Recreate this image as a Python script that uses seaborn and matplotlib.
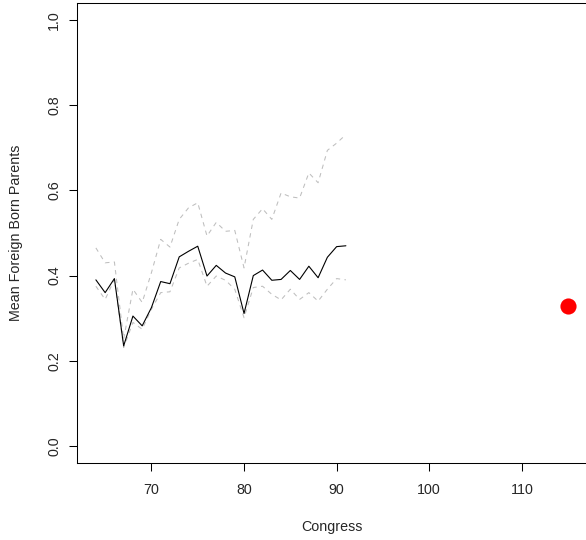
import numpy as np
import pandas as pd
import matplotlib
matplotlib.use("Agg")
import matplotlib.pyplot as plt
import seaborn as sns

sns.set_style("white")
plt.rcParams['font.family'] = ['Liberation Sans', 'DejaVu Sans']

# congress number for each series point
congress = list(range(64, 92))
mean_fb = [0.390, 0.360, 0.393, 0.235, 0.305, 0.282, 0.325, 0.386, 0.381, 0.444,
           0.457, 0.469, 0.399, 0.424, 0.406, 0.397, 0.311, 0.400, 0.413, 0.389,
           0.391, 0.412, 0.391, 0.422, 0.395, 0.443, 0.468, 0.470]
upper_fb = [0.465, 0.430, 0.432, 0.251, 0.368, 0.337, 0.407, 0.485, 0.467, 0.532,
            0.559, 0.571, 0.493, 0.525, 0.504, 0.506, 0.418, 0.532, 0.557, 0.532,
            0.594, 0.585, 0.582, 0.641, 0.618, 0.694, 0.711, 0.731]
lower_fb = [0.375, 0.344, 0.391, 0.231, 0.290, 0.274, 0.321, 0.360, 0.362, 0.418,
            0.429, 0.438, 0.375, 0.399, 0.389, 0.368, 0.301, 0.372, 0.375, 0.356,
            0.343, 0.368, 0.344, 0.360, 0.340, 0.368, 0.393, 0.390]
current_congress = [115]
current_fb = [0.328]

df = pd.DataFrame({"congress": congress, "mean": mean_fb,
                   "upper": upper_fb, "lower": lower_fb})
cur = pd.DataFrame({"congress": current_congress, "mean": current_fb})

fig = plt.figure(figsize=(5.86, 5.40), dpi=100)
ax = fig.add_axes([77 / 586, 77 / 540, 510 / 586, 460 / 540])

sns.lineplot(data=df, x="congress", y="upper", color="#bebebe", lw=0.75,
             ax=ax).lines[-1].set_dashes((4.2, 4.2))
sns.lineplot(data=df, x="congress", y="lower", color="#bebebe", lw=0.75,
             ax=ax).lines[-1].set_dashes((4.2, 4.2))
sns.lineplot(data=df, x="congress", y="mean", color="black", lw=0.8, ax=ax)
sns.scatterplot(data=cur, x="congress", y="mean", color="red", s=135,
                linewidth=0, ax=ax)

fs = 10.3
ax.set_xlim(61.96, 117.04)
ax.set_ylim(-0.04, 1.04)
ax.set_xticks([70, 80, 90, 100, 110])
ax.set_yticks([0.0, 0.2, 0.4, 0.6, 0.8, 1.0])
ax.set_yticklabels(["0.0", "0.2", "0.4", "0.6", "0.8", "1.0"], rotation=90, va="center")
ax.tick_params(axis="both", direction="out", length=5.5, width=0.75, color="black",
               labelsize=fs, left=True, bottom=True)
ax.tick_params(axis="x", pad=9)
ax.tick_params(axis="y", pad=6)
ax.set_xlabel("Congress", fontsize=fs, va="center")
ax.set_ylabel("Mean Foreign Born Parents", fontsize=fs, va="center")
ax.xaxis.set_label_coords(0.5, -64 / 460)
ax.yaxis.set_label_coords(-61 / 510, 0.5)
for sp in ax.spines.values():
    sp.set_visible(True)
    sp.set_color("black")
    sp.set_linewidth(0.75)

fig.savefig("out.png", dpi=100)
